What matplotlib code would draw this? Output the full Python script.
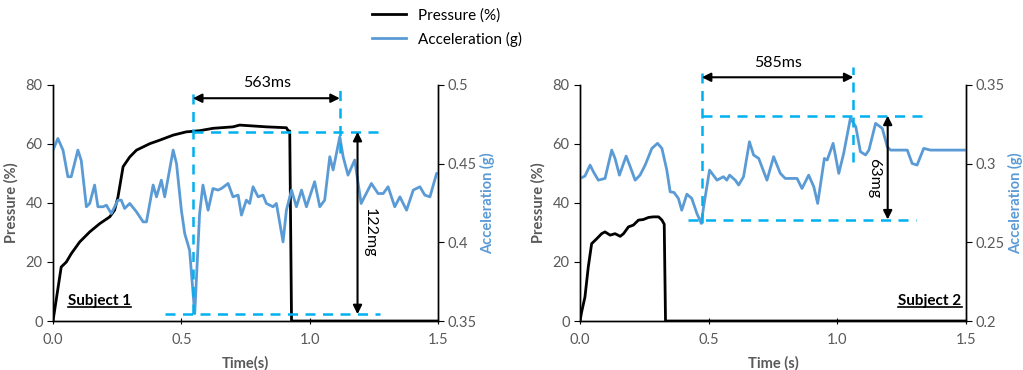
import matplotlib.pyplot as plt
from matplotlib.lines import Line2D

plt.rcParams['font.family'] = ['Lato', 'DejaVu Sans']

BLACK = '#000000'
BLUE = '#5B9BD5'
DASH = '#00B0F0'
GREY = '#595959'

# Subject 1
t1_p = [0, 0.032, 0.052, 0.071, 0.104, 0.143, 0.182, 0.221, 0.24, 0.253, 0.273, 0.299,
        0.325, 0.377, 0.416, 0.468, 0.519, 0.571, 0.623, 0.701, 0.727, 0.831, 0.909,
        0.916, 0.922, 0.929, 1.5]
p1 = [0, 18.3, 20, 22.8, 26.8, 30.2, 33, 35.3, 37.6, 42, 52.3, 55.6,
      57.9, 60.1, 61.3, 63, 64.1, 64.5, 65.3, 65.8, 66.4, 65.8, 65.5,
      64.4, 64.4, 0, 0]
t1_a = [0, 0.019, 0.039, 0.058, 0.071, 0.097, 0.11, 0.13, 0.143, 0.162, 0.175, 0.195,
        0.208, 0.227, 0.253, 0.266, 0.279, 0.299, 0.325, 0.351, 0.364, 0.39, 0.403,
        0.422, 0.435, 0.468, 0.481, 0.5, 0.513, 0.532, 0.552, 0.571, 0.584, 0.604,
        0.623, 0.643, 0.656, 0.682, 0.701, 0.721, 0.734, 0.753, 0.766, 0.779, 0.799,
        0.818, 0.831, 0.857, 0.87, 0.896, 0.909, 0.929, 0.948, 0.968, 0.987, 1.019,
        1.039, 1.058, 1.078, 1.091, 1.117, 1.13, 1.149, 1.175, 1.2, 1.24, 1.266,
        1.286, 1.305, 1.331, 1.351, 1.377, 1.403, 1.429, 1.448, 1.468, 1.494, 1.5]
a1 = [0.4586, 0.466, 0.4586, 0.4417, 0.4417, 0.4586, 0.452, 0.4226, 0.4247, 0.4364,
      0.4226, 0.4226, 0.4236, 0.4183, 0.4268, 0.4268, 0.4215, 0.4247, 0.4194, 0.413,
      0.413, 0.4364, 0.4289, 0.4395, 0.4289, 0.4586, 0.450, 0.4204, 0.4056, 0.395,
      0.3547, 0.4183, 0.4364, 0.4204, 0.4342, 0.4332, 0.4342, 0.4374, 0.4289, 0.430,
      0.4173, 0.4268, 0.4247, 0.4353, 0.4289, 0.430, 0.4247, 0.4226, 0.4247, 0.4003,
      0.4204, 0.4332, 0.4226, 0.4332, 0.4226, 0.4385, 0.4226, 0.4268, 0.4544, 0.446,
      0.4671, 0.4544, 0.4427, 0.4523, 0.4247, 0.4374, 0.431, 0.431, 0.4353, 0.4226,
      0.4289, 0.4204, 0.4332, 0.4353, 0.430, 0.4289, 0.4438, 0.4438]

# Subject 2
t2_p = [0, 0.006, 0.019, 0.032, 0.045, 0.065, 0.084, 0.097, 0.117, 0.136, 0.156, 0.169,
        0.188, 0.207, 0.227, 0.246, 0.266, 0.285, 0.305, 0.318, 0.327, 0.332, 1.5]
p2 = [0, 3, 8.1, 18.3, 26.2, 27.9, 29.6, 30.2, 29.1, 29.6, 28.7, 29.6,
      31.9, 32.5, 34.2, 34.4, 35.1, 35.3, 35.3, 34.2, 32.8, 0, 0]
t2_a = [0, 0.019, 0.039, 0.052, 0.071, 0.097, 0.123, 0.136, 0.153, 0.179, 0.195, 0.214,
        0.233, 0.253, 0.279, 0.301, 0.318, 0.337, 0.35, 0.365, 0.382, 0.395, 0.415,
        0.434, 0.454, 0.471, 0.48, 0.503, 0.532, 0.557, 0.57, 0.581, 0.603, 0.616,
        0.635, 0.658, 0.674, 0.694, 0.726, 0.752, 0.778, 0.797, 0.843, 0.862, 0.888,
        0.908, 0.923, 0.949, 0.96, 0.983, 1.005, 1.024, 1.05, 1.071, 1.089, 1.109,
        1.122, 1.148, 1.174, 1.193, 1.206, 1.271, 1.29, 1.309, 1.335, 1.361, 1.5]
a2 = [0.2906, 0.2921, 0.2991, 0.2948, 0.2895, 0.2906, 0.3086, 0.3033, 0.2927, 0.3048,
      0.298, 0.2895, 0.2927, 0.2991, 0.3097, 0.3129, 0.3097, 0.2959, 0.2821, 0.2817,
      0.2779, 0.2704, 0.2806, 0.2779, 0.2683, 0.262, 0.2726, 0.2959, 0.2895, 0.2917,
      0.2895, 0.2927, 0.2895, 0.2864, 0.2917, 0.3139, 0.3055, 0.3033, 0.2895, 0.3044,
      0.2938, 0.2906, 0.2906, 0.2842, 0.2927, 0.2853, 0.2747, 0.3033, 0.3023, 0.3129,
      0.2938, 0.3065, 0.3288, 0.3235, 0.3076, 0.3055, 0.3086, 0.3256, 0.3224, 0.3108,
      0.3086, 0.3086, 0.3001, 0.2991, 0.3097, 0.3086, 0.3086]

# annotation geometry (pressure-axis units)
ann1 = dict(vx=(0.545, 1.117), vtop=(78.9, 78.9), vbot=(2.3, 56.8),
            htop=(64.1, 0.545, 1.279), hbot=(2.3, 0.435, 1.273),
            harrow_y=75.5, varrow_x=1.186,
            hlabel=('563ms', 0.832, 80.6), vlabel=('122mg', 1.235, 29.8),
            subject=('Subject 1', 0.057, 6.8, 'left'), xlabel='Time(s)',
            acc_lim=(0.35, 0.5), acc_ticks=[0.35, 0.4, 0.45, 0.5])
ann2 = dict(vx=(0.473, 1.062), vtop=(86.2, 86.2), vbot=(33.2, 54.0),
            htop=(69.6, 0.473, 1.355), hbot=(34.4, 0.421, 1.303),
            harrow_y=82.6, varrow_x=1.195,
            hlabel=('585ms', 0.77, 87.6), vlabel=('63mg', 1.143, 48.5),
            subject=('Subject 2', 1.482, 6.8, 'right'), xlabel='Time (s)',
            acc_lim=(0.2, 0.35), acc_ticks=[0.2, 0.25, 0.3, 0.35])

fig = plt.figure(figsize=(10.23, 3.70), dpi=100)
axes = [fig.add_axes([0.0518, 0.1324, 0.3765, 0.638]),
        fig.add_axes([0.567, 0.1324, 0.3775, 0.638])]

subjects = [(t1_p, p1, t1_a, a1, ann1), (t2_p, p2, t2_a, a2, ann2)]
sub_texts = []
for ax, (tp, pp, ta, aa, an) in zip(axes, subjects):
    ax2 = ax.twinx()
    ax.plot(tp, pp, color=BLACK, lw=2, zorder=3)
    ax2.plot(ta, aa, color=BLUE, lw=2)
    ax.set_xlim(0, 1.5)
    ax.set_ylim(0, 80)
    ax2.set_ylim(*an['acc_lim'])
    ax.set_xticks([0, 0.5, 1.0, 1.5])
    ax.set_yticks([0, 20, 40, 60, 80])
    ax2.set_yticks(an['acc_ticks'])
    ax2.set_yticklabels([f'{v:g}' for v in an['acc_ticks']])
    for a in (ax, ax2):
        a.spines['top'].set_visible(False)
        for s in a.spines.values():
            s.set_linewidth(1.0)
        a.tick_params(labelsize=10.5, labelcolor=GREY, length=4, width=0.8)
    ax2.tick_params(axis='y', pad=3)
    ax.tick_params(axis='x', direction='inout', length=5, pad=6)
    ax.set_ylabel('Pressure (%)', fontsize=10.5, fontweight='bold', color=GREY, labelpad=5)
    ax2.set_ylabel('Acceleration (g)', fontsize=10.5, fontweight='bold', color=BLUE, labelpad=2)
    ax.set_xlabel(an['xlabel'], fontsize=10.5, fontweight='bold', color=GREY, labelpad=7)

    tr = ax.transData
    dkw = dict(color=DASH, lw=1.8, ls=(0, (4, 3)), transform=tr, clip_on=False, zorder=5)
    for x, yt, yb in zip(an['vx'], an['vtop'], an['vbot']):
        ax2.plot([x, x], [yb, yt], **dkw)
    for y, x0, x1 in (an['htop'], an['hbot']):
        ax2.plot([x0, x1], [y, y], **dkw)
    akw = dict(arrowstyle='<|-|>', color=BLACK, lw=1.5, mutation_scale=13, shrinkA=0, shrinkB=0)
    ax2.annotate('', xy=(an['vx'][0], an['harrow_y']), xytext=(an['vx'][1], an['harrow_y']),
                 xycoords=tr, textcoords=tr, arrowprops=akw, annotation_clip=False, zorder=6)
    ax2.annotate('', xy=(an['varrow_x'], an['htop'][0]), xytext=(an['varrow_x'], an['hbot'][0]),
                 xycoords=tr, textcoords=tr, arrowprops=akw, annotation_clip=False, zorder=6)
    lbl, lx, ly = an['hlabel']
    ax2.text(lx, ly, lbl, transform=tr, ha='center', va='center', fontsize=11.5, clip_on=False)
    lbl, lx, ly = an['vlabel']
    ax2.text(lx, ly, lbl, transform=tr, ha='center', va='center', fontsize=11.5, rotation=-90)
    lbl, sx, sy, ha = an['subject']
    sub_texts.append(ax2.text(sx, sy, lbl, transform=tr, ha=ha, va='center',
                              fontsize=11, fontweight='bold'))

handles = [Line2D([], [], color=BLACK, lw=2), Line2D([], [], color=BLUE, lw=2)]
fig.legend(handles, ['Pressure (%)', 'Acceleration (g)'], loc='upper center',
           bbox_to_anchor=(0.437, 1.015), frameon=False, fontsize=11, handlelength=2.2,
           labelspacing=0.6)

# underline the subject labels
fig.canvas.draw()
inv = fig.transFigure.inverted()
for txt in sub_texts:
    bb = txt.get_window_extent()
    (x0, y0), (x1, _) = inv.transform([(bb.x0, bb.y0 + 1), (bb.x1, bb.y1)])
    fig.add_artist(Line2D([x0, x1], [y0, y0], color=BLACK, lw=1.2, transform=fig.transFigure))

fig.savefig('out.png', dpi=100)
